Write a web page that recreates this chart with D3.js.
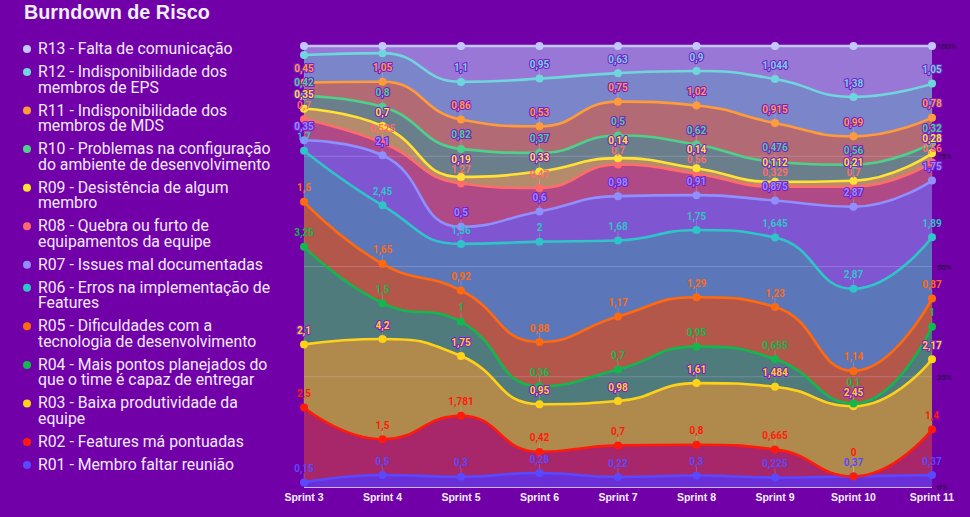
<!DOCTYPE html>
<html><head><meta charset="utf-8">
<script src="https://cdn.jsdelivr.net/npm/d3@7"></script>
<style>
body{margin:0;background:#7100a9;}
svg{display:block;font-family:Roboto, "Noto Sans", sans-serif;}
</style>
</head><body>
<svg id="c" width="970" height="517"></svg>
<script>
// ---------- DATA ----------
const sprints = ["Sprint 3","Sprint 4","Sprint 5","Sprint 6","Sprint 7","Sprint 8","Sprint 9","Sprint 10","Sprint 11"];
const seriesKeys = ["R01","R02","R03","R04","R05","R06","R07","R08","R09","R10","R11","R12","R13"];
const seriesNames = [
  "R01 - Membro faltar reunião",
  "R02 - Features má pontuadas",
  "R03 - Baixa produtividade da\nequipe",
  "R04 - Mais pontos planejados do\nque o time é capaz de entregar",
  "R05 - Dificuldades com a\ntecnologia de desenvolvimento",
  "R06 - Erros na implementação de\nFeatures",
  "R07 - Issues mal documentadas",
  "R08 - Quebra ou furto de\nequipamentos da equipe",
  "R09 - Desistência de algum\nmembro",
  "R10 - Problemas na configuração\ndo ambiente de desenvolvimento",
  "R11 - Indisponibilidade dos\nmembros de MDS",
  "R12 - Indisponibilidade dos\nmembros de EPS",
  "R13 - Falta de comunicação"
];
const R01 = [0.15, 0.5, 0.3, 0.28, 0.22, 0.3, 0.225, 0.37, 0.37];
const R02 = [2.5, 1.5, 1.781, 0.42, 0.7, 0.8, 0.665, 0, 1.4];
const R03 = [2.1, 4.2, 1.75, 0.95, 0.98, 1.61, 1.484, 2.45, 2.17];
const R04 = [3.25, 1.5, 1, 0.36, 0.7, 0.95, 0.655, 0.1, 1];
const R05 = [1.5, 1.65, 0.92, 0.88, 1.17, 1.29, 1.23, 1.14, 0.87];
const R06 = [1.7, 2.45, 1.36, 2, 1.68, 1.75, 1.645, 2.87, 1.89];
const R07 = [0.35, 2.1, 0.5, 0.6, 0.98, 0.91, 0.875, 2.87, 1.75];
const R08 = [0.7, 0.525, 1.27, 0.47, 0.7, 0.56, 0.329, 0.7, 0.56];
const R09 = [0.35, 0.7, 0.19, 0.33, 0.14, 0.14, 0.112, 0.21, 0.28];
const R10 = [0.42, 0.8, 0.82, 0.37, 0.5, 0.62, 0.476, 0.56, 0.32];
const R11 = [0.45, 1.05, 0.86, 0.53, 0.75, 1.02, 0.915, 0.99, 0.78];
const R12 = [0.92, 1.2, 1.1, 0.95, 0.63, 0.9, 1.044, 1.38, 1.05];
const R13 = [0.3, 0.3, 1.05, 0.65, 0.6, 0.65, 0.78, 1.78, 1.16];
const seriesValues = [R01,R02,R03,R04,R05,R06,R07,R08,R09,R10,R11,R12,R13];
const percentTicks = [0, 0.25, 0.5, 0.75, 1];

// ---------- STYLE ----------
const lineColors = ["#5a48ff","#ff1a0a","#ffd21a","#12b84e","#ff6a10","#2fc4c8","#8f8fff","#ff6b6b","#ffe234","#4fd08a","#ff9b3a","#6fd6dc","#c2c8ff"];
const areaColors = ["#6a2fd6","#a8276a","#b08a4c","#4f7b7d","#b3574b","#5b77b9","#7f55d1","#b04a86","#b48c6c","#6a7e8c","#b26a74","#7a86c9","#9877d6"];
const outlined = [false,false,true,false,false,false,true,false,true,true,true,true,true];

const svg = d3.select("#c");
const x = d3.scalePoint().domain(sprints).range([304, 932]);
const y = d3.scaleLinear().domain([0, 1]).range([487, 46]);

// table for the stack
const table = sprints.map((s, i) => {
  const row = {sprint: s};
  seriesKeys.forEach((k, j) => row[k] = seriesValues[j][i]);
  return row;
});
const stacked = d3.stack().keys(seriesKeys).offset(d3.stackOffsetExpand)(table);

// ECharts-like smoothing curve (clamped bezier)
function clamp(v, a, b){ return Math.max(Math.min(a,b), Math.min(Math.max(a,b), v)); }
function smoothSegs(p){
  const n = p.length, s = 0.5, segs = [];
  let cp0 = [p[0][0], p[0][1]];
  for (let i = 1; i < n; i++){
    const [px, py] = p[i-1], [xx, yy] = p[i];
    let cp1, ncp;
    if (i === n-1){ cp1 = [xx, yy]; ncp = [xx, yy]; }
    else {
      const [nx, ny] = p[i+1];
      let vx = nx - px, vy = ny - py;
      const l0 = Math.hypot(xx-px, yy-py) || 1e-6, l1 = Math.hypot(nx-xx, ny-yy) || 1e-6;
      const r = l1/(l0+l1);
      let ncx = xx + vx*s*r, ncy = yy + vy*s*r;
      ncx = clamp(ncx, nx, xx); ncy = clamp(ncy, ny, yy);
      vx = ncx - xx; vy = ncy - yy;
      let c1x = xx - vx*l0/l1, c1y = yy - vy*l0/l1;
      c1x = clamp(c1x, px, xx); c1y = clamp(c1y, py, yy);
      vx = xx - c1x; vy = yy - c1y;
      ncx = xx + vx*l1/l0; ncy = yy + vy*l1/l0;
      cp1 = [c1x, c1y]; ncp = [ncx, ncy];
    }
    segs.push([cp0, cp1, [xx, yy]]);
    cp0 = ncp;
  }
  return segs;
}
function EchartsCurve(context){ this._context = context; }
EchartsCurve.prototype = {
  areaStart(){ this._line = 0; },
  areaEnd(){ this._line = NaN; },
  lineStart(){ this._pts = []; },
  point(px, py){ this._pts.push([+px, +py]); },
  lineEnd(){
    const c = this._context, p = this._pts, n = p.length;
    if (n){
      const reversed = this._line === 1;
      if (!reversed){
        if (this._line) c.lineTo(p[0][0], p[0][1]); else c.moveTo(p[0][0], p[0][1]);
        smoothSegs(p).forEach(sg => c.bezierCurveTo(sg[0][0], sg[0][1], sg[1][0], sg[1][1], sg[2][0], sg[2][1]));
      } else {
        const f = p.slice().reverse();
        const segs = smoothSegs(f);
        c.lineTo(f[n-1][0], f[n-1][1]);
        for (let i = segs.length-1; i >= 0; i--){
          const sg = segs[i]; const start = f[i];
          c.bezierCurveTo(sg[1][0], sg[1][1], sg[0][0], sg[0][1], start[0], start[1]);
        }
      }
    }
    if (this._line || (this._line !== 0 && n === 1)) c.closePath();
    this._line = 1 - this._line;
  }
};
const curve = ctx => new EchartsCurve(ctx);

// ---------- TITLE ----------
svg.append("text").attr("x", 24).attr("y", 19)
  .attr("fill", "#eeeef6").attr("font-size", 19.8).attr("font-weight", 700)
  .attr("font-family", "'Liberation Sans', Arial, sans-serif")
  .text("Burndown de Risco");

// ---------- LEGEND ----------
const lh = 15.56, gap = 7.44;
let ly = 54;
for (let j = seriesKeys.length-1; j >= 0; j--){
  const lines = seriesNames[j].split("\n");
  svg.append("circle").attr("cx", 27).attr("cy", ly-5).attr("r", 4).attr("fill", lineColors[j]);
  const t = svg.append("text").attr("x", 38).attr("y", ly).attr("fill", "#f2eaff").attr("font-size", 15.8);
  lines.forEach((ln, k) => t.append("tspan").attr("x", 38).attr("y", ly + k*lh).text(ln));
  ly += lines.length*lh + gap;
}

// ---------- AREAS ----------
const area = d3.area()
  .x((d, i) => x(sprints[i]))
  .y0(d => y(d[0])).y1(d => y(d[1]))
  .curve(curve);
const lineGen = d3.line()
  .x((d, i) => x(sprints[i]))
  .y(d => y(d[1]))
  .curve(curve);

const gArea = svg.append("g");
stacked.forEach((s, j) => {
  gArea.append("path").attr("d", area(s)).attr("fill", areaColors[j]);
});

// grid lines
svg.append("g").selectAll("line").data(percentTicks.filter(t => t > 0 && t < 1)).join("line")
  .attr("x1", 304).attr("x2", 932)
  .attr("y1", d => y(d)).attr("y2", d => y(d))
  .attr("stroke", "#e6d8ff").attr("stroke-opacity", 0.22).attr("stroke-width", 1);

// x axis line
svg.append("line").attr("x1", 304).attr("x2", 932).attr("y1", y(0)+0.5).attr("y2", y(0)+0.5)
  .attr("stroke", "#c8b4ff").attr("stroke-width", 1.2);

// lines
const gLine = svg.append("g");
stacked.forEach((s, j) => {
  gLine.append("path").attr("d", lineGen(s)).attr("fill", "none")
    .attr("stroke", lineColors[j]).attr("stroke-width", 2.6);
});

// ---------- LABEL LAYOUT (avoid vertical overlap per column) ----------
const labelGap = 10;
const labels = [];
sprints.forEach((sp, i) => {
  const col = [];
  stacked.forEach((s, j) => {
    const py = y(s[i][1]);
    const want = py - 14; // label centre
    if (want < 46) return;
    col.push({j, i, px: x(sp), py, cy: want});
  });
  col.sort((a, b) => b.cy - a.cy); // bottom first
  for (let k = 1; k < col.length; k++){
    const lim = col[k-1].cy - labelGap;
    if (col[k].cy > lim) col[k].cy = lim;
  }
  labels.push(...col);
});

// connector lines + dots
const gDot = svg.append("g");
labels.forEach(l => {
  gDot.append("line").attr("x1", l.px).attr("x2", l.px)
    .attr("y1", l.cy + 5).attr("y2", l.py - 3)
    .attr("stroke", "#ffffff").attr("stroke-opacity", 0.16).attr("stroke-width", 1);
});
stacked.forEach((s, j) => {
  gDot.selectAll(null).data(s).join("circle")
    .attr("cx", (d, i) => x(sprints[i])).attr("cy", d => y(d[1]))
    .attr("r", 4).attr("fill", lineColors[j]);
});

// value labels
const gLab = svg.append("g").attr("font-size", 10).attr("font-weight", 700).attr("text-anchor", "middle");
labels.sort((a, b) => a.j - b.j).forEach(l => {
  const t = gLab.append("text")
    .attr("x", l.px).attr("y", l.cy + 3.6)
    .attr("fill", lineColors[l.j])
    .text(String(seriesValues[l.j][l.i]).replace(".", ","));
  if (outlined[l.j]) t.attr("stroke", "#7a1ed0").attr("stroke-width", 2.2).attr("paint-order", "stroke").attr("stroke-linejoin", "round");
});

// x axis labels
svg.append("g").selectAll("text").data(sprints).join("text")
  .attr("x", d => x(d)).attr("y", 501).attr("text-anchor", "middle")
  .attr("fill", "#f4f0ff").attr("font-size", 10.5).attr("font-weight", 700)
  .attr("font-family", "'Liberation Sans', Arial, sans-serif")
  .text(d => d);

// right percentage axis
svg.append("g").selectAll("text").data(percentTicks).join("text")
  .attr("x", 937).attr("y", d => y(d) + 3).attr("fill", "#1a0030")
  .attr("font-size", 8).text(d => d3.format(".0%")(d));
</script>
</body></html>
